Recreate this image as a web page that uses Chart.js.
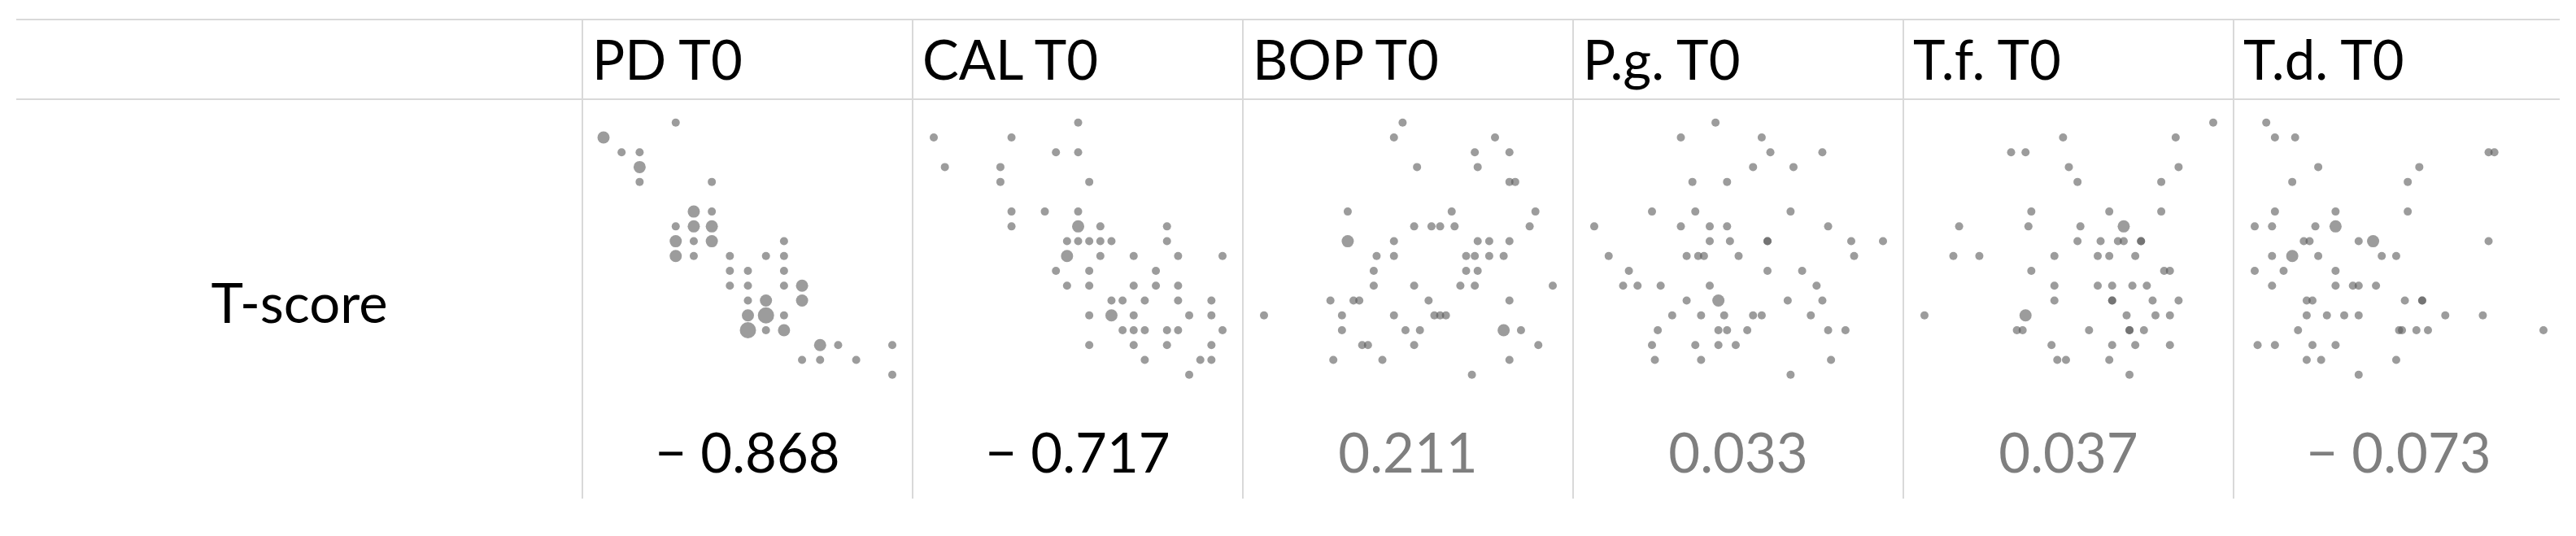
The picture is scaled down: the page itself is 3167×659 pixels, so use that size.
<!DOCTYPE html>
<html>
<head>
<meta charset="utf-8">
<script src="https://cdn.jsdelivr.net/npm/chart.js@4.4.1/dist/chart.umd.min.js"></script>
<style>
  body { margin: 0; background: #fff; width: 3167px; height: 659px; position: relative; overflow: hidden;
         font-family: Lato, "Open Sans", sans-serif; }
  .hl { position: absolute; left: 20px; width: 3127px; height: 2px; background: #d9d9d9; }
  .vl { position: absolute; top: 23px; width: 2px; height: 590px; background: #d9d9d9; }
  .txt { position: absolute; font-size: 67px; line-height: 67px; white-space: nowrap; color: #000; }
  canvas { position: absolute; }
</style>
</head>
<body>
<script>
// column headers and correlation with T-score
const columns = ['PD T0', 'CAL T0', 'BOP T0', 'P.g. T0', 'T.f. T0', 'T.d. T0'];
const rValues = [-0.868, -0.717, 0.211, 0.033, 0.037, -0.073];
const significant = [true, true, false, false, false, false];
const rowLabel = 'T-score';

// PD T0 (x) vs T-score (y), n = overlapping patients
const pdX = [2.8, 2.4, 2.5, 2.6, 2.6, 2.6, 3.0, 2.9, 3.0, 2.8, 2.9, 3.0, 2.8, 2.9, 3.0, 3.4,
  2.8, 2.9, 3.1, 3.3, 3.4, 3.1, 3.2, 3.4, 3.1, 3.2, 3.4, 3.5, 3.2, 3.3, 3.5, 3.2, 3.3, 3.4,
  3.2, 3.3, 3.4, 3.6, 3.7, 4.0, 3.5, 3.6, 3.8, 4.0];
const pdY = [47, 46, 45, 45, 44, 43, 43, 41, 41, 40, 40, 40, 39, 39, 39, 39,
  38, 38, 38, 38, 38, 37, 37, 37, 36, 36, 36, 36, 35, 35, 35, 34, 34, 34,
  33, 33, 33, 32, 32, 32, 31, 31, 31, 30];
const pdN = [1, 2, 1, 1, 2, 1, 1, 2, 1, 1, 2, 2, 2, 1, 2, 1,
  2, 1, 1, 1, 1, 1, 1, 1, 1, 1, 1, 2, 1, 2, 2, 2, 3, 1,
  3, 1, 2, 2, 1, 1, 1, 1, 1, 1];

// CAL T0
const calX = [3.3, 2.0, 2.7, 3.1, 3.3, 2.1, 2.6, 2.6, 3.4, 2.7, 3.0, 3.3, 2.7, 3.3, 3.5, 4.1,
  3.2, 3.3, 3.4, 3.5, 3.6, 4.1, 3.2, 3.5, 3.8, 4.2, 4.6, 3.1, 3.4, 4.0, 3.2, 3.4, 3.8, 4.0, 4.2,
  3.6, 3.7, 3.9, 4.2, 4.5, 3.4, 3.6, 3.8, 4.3, 4.5, 3.7, 3.8, 3.9, 4.1, 4.2, 4.6,
  3.4, 3.8, 4.1, 4.5, 3.9, 4.4, 4.5, 4.3];
const calY = [47, 46, 46, 45, 45, 44, 44, 43, 43, 41, 41, 41, 40, 40, 40, 40,
  39, 39, 39, 39, 39, 39, 38, 38, 38, 38, 38, 37, 37, 37, 36, 36, 36, 36, 36,
  35, 35, 35, 35, 35, 34, 34, 34, 34, 34, 33, 33, 33, 33, 33, 33,
  32, 32, 32, 32, 31, 31, 31, 30];
const calN = [1, 1, 1, 1, 1, 1, 1, 1, 1, 1, 1, 1, 1, 2, 1, 1,
  1, 1, 1, 1, 1, 1, 2, 1, 1, 1, 1, 1, 1, 1, 1, 1, 1, 1, 1,
  1, 1, 1, 1, 1, 1, 2, 1, 1, 1, 1, 1, 1, 1, 1, 1,
  1, 1, 1, 1, 1, 1, 1, 1];

// BOP T0 (%)
const bopX = [48, 45, 80, 73, 85, 53, 74, 85, 87, 29, 65, 94, 52, 58, 61, 66, 92,
  29, 45, 74, 78, 85, 39, 45, 70, 73, 78, 83, 38, 70, 74, 38, 52, 68, 73, 100,
  23, 31, 33, 57, 85, 0, 27, 45, 59, 61, 63, 27, 49, 54, 83, 89, 34, 36, 52, 95, 24, 41, 85, 72];
const bopY = [47, 46, 46, 45, 45, 44, 44, 43, 43, 41, 41, 41, 40, 40, 40, 40, 40,
  39, 39, 39, 39, 39, 38, 38, 38, 38, 38, 38, 37, 37, 37, 36, 36, 36, 36, 36,
  35, 35, 35, 35, 35, 34, 34, 34, 34, 34, 34, 33, 33, 33, 33, 33, 32, 32, 32, 32, 31, 31, 31, 30];
const bopN = [1, 1, 1, 1, 1, 1, 1, 1, 1, 1, 1, 1, 1, 1, 1, 1, 1,
  2, 1, 1, 1, 1, 1, 1, 1, 1, 1, 1, 1, 1, 1, 1, 1, 1, 1, 1,
  1, 1, 1, 1, 1, 1, 1, 1, 1, 1, 1, 1, 1, 1, 2, 1, 1, 1, 1, 1, 1, 1, 1, 1];

// P.g. T0
const pgX = [42, 30, 58, 61, 79, 55, 69, 34, 46, 20, 35, 68, 0, 30, 40, 46, 81,
  40, 47, 60, 60, 89, 100, 5, 32, 36, 38, 50, 90, 12, 60, 72, 10, 15, 23, 40, 77,
  32, 43, 67, 79, 27, 37, 45, 55, 58, 75, 22, 43, 46, 53, 81, 87, 20, 35, 43, 49, 21, 37, 82, 68];
const pgY = [47, 46, 46, 45, 45, 44, 44, 43, 43, 41, 41, 41, 40, 40, 40, 40, 40,
  39, 39, 39, 39, 39, 39, 38, 38, 38, 38, 38, 38, 37, 37, 37, 36, 36, 36, 36, 36,
  35, 35, 35, 35, 34, 34, 34, 34, 34, 34, 33, 33, 33, 33, 33, 33, 32, 32, 32, 32, 31, 31, 31, 30];
const pgN = [1, 1, 1, 1, 1, 1, 1, 1, 1, 1, 1, 1, 1, 1, 1, 1, 1,
  1, 1, 1, 1, 1, 1, 1, 1, 1, 1, 1, 1, 1, 1, 1, 1, 1, 1, 1, 1,
  1, 2, 1, 1, 1, 1, 1, 1, 1, 1, 1, 1, 1, 1, 1, 1, 1, 1, 1, 1, 1, 1, 1, 1];

// T.f. T0
const tfX = [100, 48, 87, 30, 35, 50, 88, 53, 82, 37, 64, 82, 12, 36, 54, 69,
  53, 61, 67, 69, 75, 75, 10, 19, 45, 60, 64, 73, 37, 83, 85, 45, 60, 65, 72, 77,
  45, 65, 65, 79, 88, 0, 35, 70, 80, 85, 32, 34, 57, 71, 71, 76, 44, 65, 73, 85, 46, 49, 64, 71];
const tfY = [47, 46, 46, 45, 45, 44, 44, 43, 43, 41, 41, 41, 40, 40, 40, 40,
  39, 39, 39, 39, 39, 39, 38, 38, 38, 38, 38, 38, 37, 37, 37, 36, 36, 36, 36, 36,
  35, 35, 35, 35, 35, 34, 34, 34, 34, 34, 33, 33, 33, 33, 33, 33, 32, 32, 32, 32, 31, 31, 31, 30];
const tfN = [1, 1, 1, 1, 1, 1, 1, 1, 1, 1, 1, 1, 1, 1, 1, 2,
  1, 1, 1, 1, 1, 1, 1, 1, 1, 1, 1, 1, 1, 1, 1, 1, 1, 1, 1, 1,
  1, 1, 1, 1, 1, 1, 2, 1, 1, 1, 1, 1, 1, 1, 1, 1, 1, 1, 1, 1, 1, 1, 1, 1];

// T.d. T0
const tdX = [4, 7, 14, 81, 83, 22, 57, 13, 53, 7, 28, 53, 0, 6, 21, 28,
  17, 19, 36, 41, 81, 6, 13, 22, 44, 49, 0, 10, 28, 6, 28, 34, 36, 42,
  18, 20, 52, 58, 58, 18, 25, 31, 36, 66, 79, 15, 50, 51, 56, 60, 100, 1, 7, 20, 28, 18, 23, 49, 36];
const tdY = [47, 46, 46, 45, 45, 44, 44, 43, 43, 41, 41, 41, 40, 40, 40, 40,
  39, 39, 39, 39, 39, 38, 38, 38, 38, 38, 37, 37, 37, 36, 36, 36, 36, 36,
  35, 35, 35, 35, 35, 34, 34, 34, 34, 34, 34, 33, 33, 33, 33, 33, 33, 32, 32, 32, 32, 31, 31, 31, 30];
const tdN = [1, 1, 1, 1, 1, 1, 1, 1, 1, 1, 1, 1, 1, 1, 1, 2,
  1, 1, 1, 2, 1, 1, 2, 1, 1, 1, 1, 1, 1, 1, 1, 1, 1, 1,
  1, 1, 1, 1, 1, 1, 1, 1, 1, 1, 1, 1, 1, 1, 1, 1, 1, 1, 1, 1, 1, 1, 1, 1, 1];

const panels = [[pdX, pdY, pdN], [calX, calY, calN], [bopX, bopY, bopN],
                [pgX, pgY, pgN], [tfX, tfY, tfN], [tdX, tdY, tdN]];

// table geometry
const colLeft = 716, colW = 406;
const dotColor = 'rgba(90, 90, 90, 0.6)';

function add(tag, cls, css, text) {
  const el = document.createElement(tag);
  if (cls) el.className = cls;
  Object.assign(el.style, css);
  if (text !== undefined) el.textContent = text;
  document.body.appendChild(el);
  return el;
}

function fmt(r) {
  return r < 0 ? '\u2212 ' + Math.abs(r).toFixed(3) : r.toFixed(3);
}

add('div', 'hl', { top: '23px' });
add('div', 'hl', { top: '121px' });
add('div', 'txt', { left: '20px', width: '696px', textAlign: 'center', top: '338px' }, rowLabel);

columns.forEach((name, i) => {
  const x0 = colLeft + i * colW;
  add('div', 'vl', { left: (x0 - 1) + 'px' });
  add('div', 'txt', { left: (x0 + 12) + 'px', top: '39px' }, name);
  add('div', 'txt', { left: x0 + 'px', width: colW + 'px', textAlign: 'center', top: '522px',
    color: significant[i] ? '#000' : '#7f7f7f' }, fmt(rValues[i]));

  const cv = add('canvas', null, { left: (x0 + 2) + 'px', top: '124px' });
  cv.width = 404; cv.height = 360;
  const [xs, ys, ns] = panels[i];
  new Chart(cv, {
    type: 'scatter',
    data: {
      datasets: [{
        data: xs.map((x, j) => ({ x: x, y: ys[j] })),
        pointRadius: ns.map(n => 2.5 + 2.5 * n),
        backgroundColor: dotColor,
        borderWidth: 0,
        clip: false
      }]
    },
    options: {
      responsive: false,
      animation: false,
      events: [],
      layout: { padding: { left: 24, right: 25, top: 26.7, bottom: 23.3 } },
      plugins: { legend: { display: false }, tooltip: { enabled: false } },
      scales: {
        x: { type: 'linear', display: false, min: Math.min(...xs), max: Math.max(...xs) },
        y: { type: 'linear', display: false, min: 30, max: 47 }
      }
    }
  });
});
</script>
</body>
</html>
